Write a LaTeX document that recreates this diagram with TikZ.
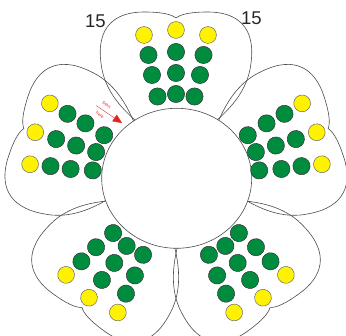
\documentclass[tikz,border=0pt]{standalone}
\usepackage{fontspec}
\setmainfont{Liberation Sans}
\usetikzlibrary{arrows.meta}
\definecolor{dotgreen}{RGB}{0,140,62}
\definecolor{dotyellow}{RGB}{255,242,0}
\definecolor{arrowred}{RGB}{228,34,30}
\begin{document}
\begin{tikzpicture}[x=1pt,y=1pt,
  petal/.style={draw=black!70, line width=0.6pt},
  gdot/.style={fill=dotgreen, draw=black!80, line width=0.5pt},
  ydot/.style={fill=dotyellow, draw=black!60, line width=0.5pt},
  num/.style={font=\fontsize{18.5}{18.5}\selectfont, text=black!85, inner sep=0},
  smalltxt/.style={font=\fontsize{4.3}{4.3}\selectfont, text=arrowred, inner sep=0, rotate=-34}]
\useasboundingbox (-176,-158) rectangle (170,178);
% petals
\foreach \a in {0,72,-72,144,-144}{
  \begin{scope}[rotate=\a]
    \draw[petal] (0,25) .. controls (-20,45) and (-70,68) .. (-75,115)
      .. controls (-80,152) and (-60,166) .. (-32,166)
      .. controls (-15,166) and (-5,164) .. (0,160)
      .. controls (5,164) and (15,166) .. (32,166)
      .. controls (60,166) and (80,152) .. (75,115)
      .. controls (70,68) and (20,45) .. (0,25) -- cycle;
  \end{scope}
}
% centre
\draw[fill=white, petal] (0.7,-0.3) ellipse [x radius=75, y radius=70];
% dots
\foreach \a in {0,72,-72,144,-144}{
  \begin{scope}[rotate=\a]
    \foreach \x/\y in {-27.5/123, 0/126, 27.5/123, -24/103, 0/105, 24/103, -18.5/81.5, 0/84, 18.5/81.5}
      \draw[gdot] (\x,\y) circle (8.6);
    \foreach \x/\y in {-32/143, 0/148, 32/143}
      \draw[ydot] (\x,\y) circle (8.4);
  \end{scope}
}
% labels
\node[num] (l15) at (-80.5,157) {15};
\node[num] (r15) at (75.5,159.5) {15};
% start here
\node[smalltxt] (st) at (-69.5,73) {Start};
\node[smalltxt] (hr) at (-76,63) {here};
\coordinate (as) at (-80,72.5);
\coordinate (at) at (-54,55);
\draw[arrowred, line width=0.35pt, -{Triangle[length=9pt,width=8pt]}] (as) -- (at);
\end{tikzpicture}
\end{document}
